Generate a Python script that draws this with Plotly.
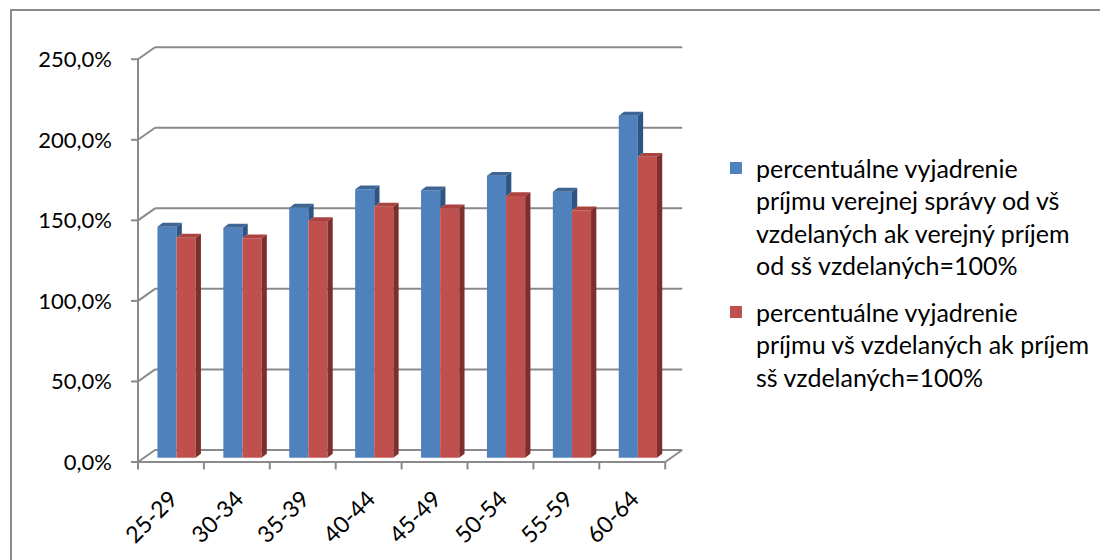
import plotly.graph_objects as go

categories = ["25-29", "30-34", "35-39", "40-44", "45-49", "50-54", "55-59", "60-64"]
blue_values = [143.4, 142.8, 155.2, 166.6, 166.0, 175.0, 165.1, 212.3]
red_values = [136.6, 136.2, 146.9, 155.8, 154.8, 162.4, 153.6, 186.8]
y_ticks = [0, 50, 100, 150, 200, 250]
y_tick_labels = ["0,0%", "50,0%", "100,0%", "150,0%", "200,0%", "250,0%"]
blue_name = "percentuálne vyjadrenie<br>príjmu verejnej správy od vš<br>vzdelaných ak verejný príjem<br>od sš vzdelaných=100%"
red_name = "percentuálne vyjadrenie<br>príjmu vš vzdelaných ak príjem<br>sš vzdelaných=100%"

FONT = "Lato"
GRID = "#8a8a8a"
BLUE, BLUE_TOP, BLUE_SIDE = "#4F81BD", "#3D6696", "#2E5483"
RED, RED_TOP, RED_SIDE = "#C0504D", "#AA4340", "#7E2F2D"

# pseudo-3D geometry (data units)
W = 0.29            # bar width
BLUE_OFF, RED_OFF = 0.44, 0.73
DX, DY = 0.08, 2.4  # bar depth
FRONT_DY = -2.67    # front plane vertical shift
BACK_DX, BACK_DY = 0.258, 4.8
TICK_X, TICK_Y = 0.106, 4.6

n = len(categories)
bx = [i + BLUE_OFF for i in range(n)]
rx = [i + RED_OFF for i in range(n)]

fig = go.Figure()
fig.add_trace(go.Bar(x=bx, y=blue_values, width=W, marker=dict(color=BLUE, line=dict(width=0)),
                     name=blue_name, legendgroup="a", hoverinfo="skip"))
fig.add_trace(go.Bar(x=rx, y=red_values, width=W, marker=dict(color=RED, line=dict(width=0)),
                     name=red_name, legendgroup="b", hoverinfo="skip"))


def poly_trace(polys, color):
    xs, ys = [], []
    for p in polys:
        for (a, b) in p:
            xs.append(a)
            ys.append(b)
        xs.append(p[0][0]); ys.append(p[0][1])
        xs.append(None); ys.append(None)
    return go.Scatter(x=xs, y=ys, mode="lines", fill="toself", fillcolor=color,
                      line=dict(width=0, color=color), showlegend=False, hoverinfo="skip")


blue_top, blue_side, red_top, red_side = [], [], [], []
for i in range(n):
    bl, br, bt = bx[i] - W / 2, bx[i] + W / 2, blue_values[i]
    rl, rr, rt = rx[i] - W / 2, rx[i] + W / 2, red_values[i]
    blue_top.append([(bl, bt), (br, bt), (br + DX, bt + DY), (bl + DX, bt + DY)])
    if bt > rt:
        blue_side.append([(br, rt), (br, bt), (br + DX, bt + DY), (br + DX, rt + DY)])
    red_top.append([(rl, rt), (rr, rt), (rr + DX, rt + DY), (rl + DX, rt + DY)])
    red_side.append([(rr, 0), (rr, rt), (rr + DX, rt + DY), (rr + DX, DY)])

fig.add_trace(poly_trace(blue_top, BLUE_TOP))
fig.add_trace(poly_trace(blue_side, BLUE_SIDE))
fig.add_trace(poly_trace(red_top, RED_TOP))
fig.add_trace(poly_trace(red_side, RED_SIDE))

shapes = []
def line(x0, y0, x1, y1):
    shapes.append(dict(type="line", xref="x", yref="y", x0=x0, y0=y0, x1=x1, y1=y1,
                       layer="below", line=dict(color=GRID, width=2)))

top = y_ticks[-1]
line(0, FRONT_DY, 0, top + FRONT_DY)
for v in y_ticks:
    line(-TICK_X, v + FRONT_DY, 0, v + FRONT_DY)
    line(0, v + FRONT_DY, BACK_DX, v + BACK_DY)
    line(BACK_DX, v + BACK_DY, n + BACK_DX, v + BACK_DY)
line(0, FRONT_DY, n, FRONT_DY)
line(n, FRONT_DY, n + BACK_DX, BACK_DY)
for i in range(n + 1):
    line(i, FRONT_DY, i, FRONT_DY - TICK_Y)

# outer chart frame
shapes.append(dict(type="rect", xref="paper", yref="paper", x0=-0.1245, y0=-0.25, x1=1.05, y1=1.0698,
                   line=dict(color=GRID, width=2), layer="below"))

fig.update_layout(
    width=1100, height=560,
    margin=dict(l=131, r=5, t=40, b=90, autoexpand=False),
    paper_bgcolor="white", plot_bgcolor="rgba(0,0,0,0)",
    barmode="overlay",
    shapes=shapes,
    font=dict(family=FONT, color="#000000"),
    showlegend=True,
    legend=dict(x=0.6068, y=0.755, xanchor="left", yanchor="top", valign="top",
                font=dict(family=FONT, size=25, color="#000"),
                tracegroupgap=11, bgcolor="rgba(0,0,0,0)"),
    xaxis=dict(range=[-0.1062, 14.522], tickmode="array",
               tickvals=[i + 0.5 for i in range(n)], ticktext=categories,
               tickangle=-45, ticks="", showgrid=False, zeroline=False, showline=False,
               tickfont=dict(family=FONT, size=23), ticklabelstandoff=10, fixedrange=True),
    yaxis=dict(range=[-7.635, 259.28], tickmode="array",
               tickvals=[v + FRONT_DY for v in y_ticks], ticktext=y_tick_labels,
               ticks="", showgrid=False, zeroline=False, showline=False,
               tickfont=dict(family=FONT, size=22), ticklabelstandoff=18, fixedrange=True),
)

fig.write_html("out.html")
